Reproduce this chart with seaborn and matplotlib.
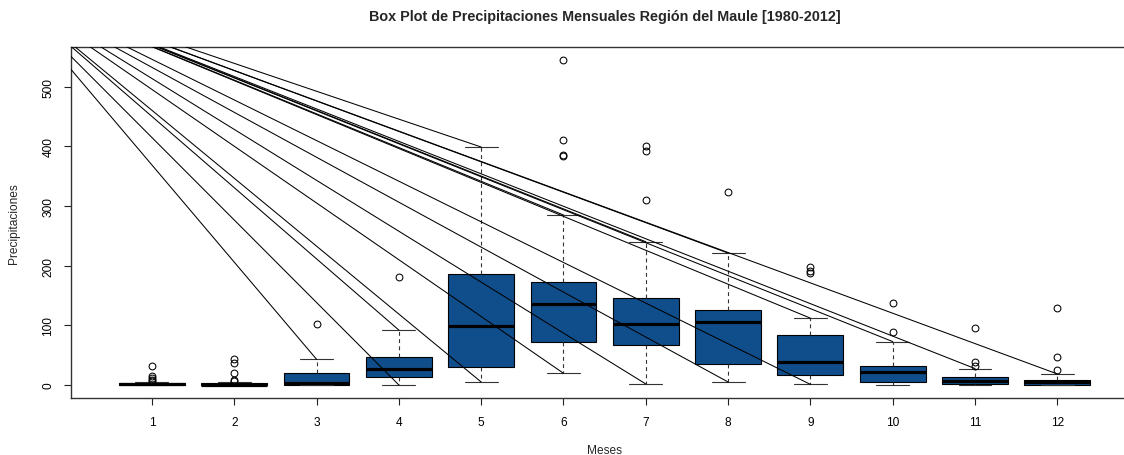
import matplotlib
matplotlib.use("Agg")
import matplotlib.pyplot as plt
import seaborn as sns
import pandas as pd

# ---------------- data ----------------
meses = [1, 2, 3, 4, 5, 6, 7, 8, 9, 10, 11, 12]
bigote_inf = [0, 0, 0, 0, 5, 19.6, 1.7, 5, 1, 0, 0, 0]
q1 = [0, 0, 0, 14, 29.6, 72.7, 67.6, 34.7, 17, 5, 2.3, 0]
mediana = [1, 0.8, 3, 27, 98.8, 136, 103, 106, 38, 21, 7.3, 4.5]
q3 = [2.5, 2.5, 20.7, 47, 186.6, 172.5, 145, 126, 84, 32.5, 13, 9]
bigote_sup = [5, 5, 43, 92, 398.7, 284.8, 240, 221, 112, 72.7, 27.5, 18.5]
atipicos = [
    [31.8, 14.6, 11, 9, 7],
    [43, 36.3, 20.7, 9, 6.2],
    [102],
    [181],
    [],
    [544, 410, 386, 383],
    [400, 392, 310.5],
    [324],
    [197.5, 191, 187],
    [137, 88],
    [95, 38.6, 32.5],
    [128.5, 47, 24.6],
]
# diagonal lines: common origin (outside the plot) to whisker ends
origen_mes = -0.87
origen_precip = 673
meses_linea_sup = [3, 4, 5, 6, 7, 8, 9, 10, 11, 12]
meses_linea_inf = [4, 5, 6, 7, 8, 9]

y_ticks = [0, 100, 200, 300, 400, 500]
titulo = "Box Plot de Precipitaciones Mensuales Región del Maule [1980-2012]"
x_label = "Meses"
y_label = "Precipitaciones"

# ---------------- style ----------------
sns.set_style("ticks")
plt.rcParams["font.family"] = ["Liberation Sans", "DejaVu Sans"]

W, H = 1124, 456
fig = plt.figure(figsize=(W / 100, H / 100), dpi=100)
ax_left, ax_right, ax_top, ax_bot = 71.3, 1138.0, 48.3, 399.0
ax = fig.add_axes([ax_left / W, 1 - ax_bot / H, (ax_right - ax_left) / W, (ax_bot - ax_top) / H])

stats = []
for i, m in enumerate(meses):
    stats.append(dict(med=mediana[i], q1=q1[i], q3=q3[i], whislo=bigote_inf[i],
                      whishi=bigote_sup[i], fliers=atipicos[i], label=str(m)))

ax.bxp(stats, positions=meses, widths=0.8, capwidths=0.4, patch_artist=True,
       boxprops=dict(facecolor="#104E8B", edgecolor="black", linewidth=0.8),
       medianprops=dict(color="black", linewidth=2.3, solid_capstyle="butt"),
       whiskerprops=dict(color="#333333", linewidth=0.8, linestyle=(0, (3.5, 3))),
       capprops=dict(color="#333333", linewidth=0.8),
       flierprops=dict(marker="o", markerfacecolor="none", markeredgecolor="black",
                       markersize=4.9, markeredgewidth=0.75),
       zorder=2)

# diagonal lines through seaborn
rows = []
k = 0
for m in meses_linea_sup:
    rows.append(dict(x=origen_mes, y=origen_precip, id=k))
    rows.append(dict(x=m, y=bigote_sup[meses.index(m)], id=k))
    k += 1
for m in meses_linea_inf:
    rows.append(dict(x=origen_mes, y=origen_precip, id=k))
    rows.append(dict(x=m, y=bigote_inf[meses.index(m)], id=k))
    k += 1
df_lines = pd.DataFrame(rows)
sns.lineplot(data=df_lines, x="x", y="y", units="id", estimator=None, sort=False,
             color="black", linewidth=0.75, legend=False, ax=ax, zorder=3)

ax.set_xlim(0.02, 12.98)
ax.set_ylim(-21.8, 565.8)
ax.set_xticks(meses)
ax.set_xticklabels([str(m) for m in meses])
ax.set_yticks(y_ticks)
ax.set_yticklabels([str(v) for v in y_ticks], rotation=90, va="center")
ax.set_xlabel("")
ax.set_ylabel("")
ax.tick_params(axis="both", direction="out", length=5.2, width=0.8, labelsize=8.6,
               colors="#222222", labelcolor="black")
ax.tick_params(axis="x", pad=7.5)
ax.tick_params(axis="y", pad=7.0)
for s in ax.spines.values():
    s.set_visible(True)
    s.set_linewidth(1.0)
    s.set_color("#333333")

cx = (ax_left + ax_right) / 2 / W
fig.text(cx, 1 - 16.5 / H, titulo, ha="center", va="center", fontsize=10.4, fontweight="bold")
fig.text(cx, 1 - 451.5 / H, x_label, ha="center", va="center", fontsize=8.6)
fig.text(14 / W, 1 - 223.6 / H, y_label, ha="center", va="center", rotation=90, fontsize=8.6)

fig.savefig("out.png", dpi=100)
